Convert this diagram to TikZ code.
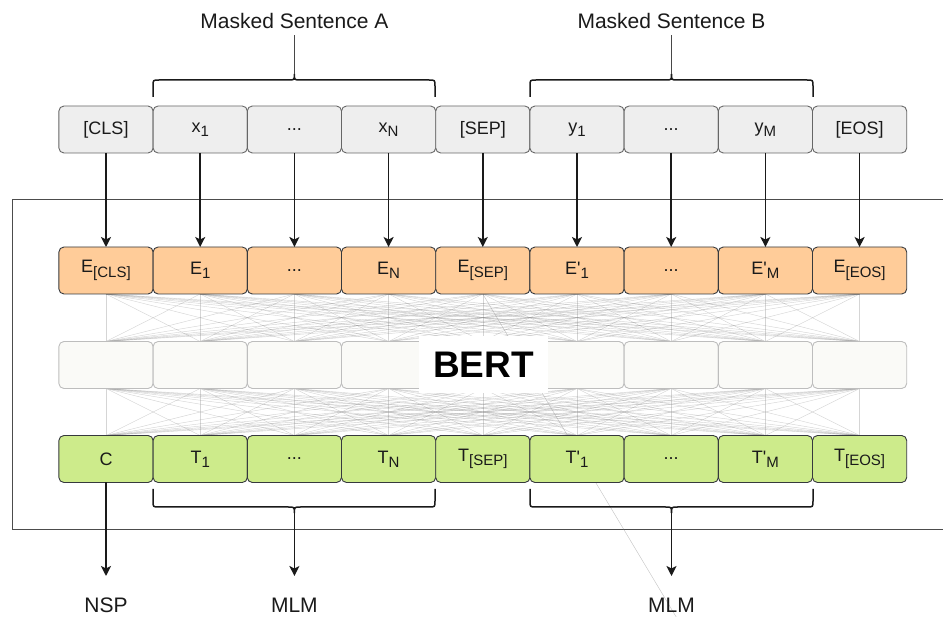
\documentclass[tikz,border=0pt]{standalone}
\usepackage{fontspec}
\setmainfont{Liberation Sans}[Ligatures=TeXOff]
\usetikzlibrary{arrows.meta,backgrounds}
\definecolor{topfill}{HTML}{EEEEEE}
\definecolor{topdraw}{HTML}{666666}
\definecolor{efill}{HTML}{FFCC99}
\definecolor{tfill}{HTML}{CDEB8B}
\definecolor{cdraw}{HTML}{36393D}
\definecolor{mfill}{HTML}{F9F9F5}
\definecolor{mdraw}{HTML}{BDBDBD}
\definecolor{ink}{HTML}{1A1A1A}
\newcommand{\mysub}[1]{\raisebox{-0.45ex}{\fontsize{15}{15}\selectfont #1}}
\begin{document}
\begin{tikzpicture}[x=1pt,y=-1pt,
  box/.style={rectangle, rounded corners=5pt, minimum width=94.2pt, minimum height=47pt,
    inner sep=0pt, outer sep=0pt, line width=0.9pt, font=\fontsize{18}{20}\selectfont, text=ink},
  inbox/.style={box, draw=topdraw, fill=topfill},
  ebox/.style={box, draw=cdraw, fill=efill},
  tbox/.style={box, draw=cdraw, fill=tfill},
  mbox/.style={box, draw=mdraw, fill=mfill, fill opacity=0.8},
  mesh/.style={draw=gray, opacity=0.33, line width=0.45pt},
  arr/.style={draw=ink, line width=1.6pt, -{Stealth[length=10pt,width=10pt,inset=2.5pt]}},
  curly/.style={draw=ink, line width=1.5pt},
  stem/.style={draw=ink!80, line width=0.9pt},
  lbl/.style={font=\fontsize{21}{23}\selectfont, text=ink, inner sep=0pt}
]
\useasboundingbox (0,0) rectangle (943,617);

% top row
\node[inbox] (t1) at (106.0,129.5) {[CLS]};
\node[inbox] (t2) at (200.2,129.5) {x\mysub{1}};
\node[inbox] (t3) at (294.4,129.5) {...};
\node[inbox] (t4) at (388.6,129.5) {x\mysub{N}};
\node[inbox] (t5) at (482.8,129.5) {[SEP]};
\node[inbox] (t6) at (577.0,129.5) {y\mysub{1}};
\node[inbox] (t7) at (671.2,129.5) {...};
\node[inbox] (t8) at (765.4,129.5) {y\mysub{M}};
\node[inbox] (t9) at (859.6,129.5) {[EOS]};

% embedding row
\node[ebox] (e1) at (106.0,270.5) {E\mysub{[CLS]}};
\node[ebox] (e2) at (200.2,270.5) {E\mysub{1}};
\node[ebox] (e3) at (294.4,270.5) {...};
\node[ebox] (e4) at (388.6,270.5) {E\mysub{N}};
\node[ebox] (e5) at (482.8,270.5) {E\mysub{[SEP]}};
\node[ebox] (e6) at (577.0,270.5) {E'\mysub{1}};
\node[ebox] (e7) at (671.2,270.5) {...};
\node[ebox] (e8) at (765.4,270.5) {E'\mysub{M}};
\node[ebox] (e9) at (859.6,270.5) {E\mysub{[EOS]}};

% middle row
\foreach \i/\x in {1/106.0,2/200.2,3/294.4,4/388.6,5/482.8,6/577.0,7/671.2,8/765.4,9/859.6}
  \node[mbox] (m\i) at (\x,365) {};

% output row
\node[tbox] (o1) at (106.0,459) {C};
\node[tbox] (o2) at (200.2,459) {T\mysub{1}};
\node[tbox] (o3) at (294.4,459) {...};
\node[tbox] (o4) at (388.6,459) {T\mysub{N}};
\node[tbox] (o5) at (482.8,459) {T\mysub{[SEP]}};
\node[tbox] (o6) at (577.0,459) {T'\mysub{1}};
\node[tbox] (o7) at (671.2,459) {...};
\node[tbox] (o8) at (765.4,459) {T'\mysub{M}};
\node[tbox] (o9) at (859.6,459) {T\mysub{[EOS]}};

\coordinate (stray) at (684,630);

\begin{scope}[on background layer]
  \draw[draw=black!70, line width=1pt] (12,200) rectangle (950,529);
  \foreach \i in {1,...,9}{
    \foreach \j in {1,...,9}{
      \draw[mesh] (e\i.south) -- (m\j.north);
      \draw[mesh] (m\i.south) -- (o\j.north);
    }
  }
  \draw[mesh, opacity=0.45] (e5.south) -- (stray);
\end{scope}

% BERT label
\node[fill=white, minimum width=129pt, minimum height=57pt, inner sep=0pt,
  font=\bfseries\fontsize{37}{37}\selectfont, text=black] (bert) at (483.5,364.5) {BERT};

% input arrows
\foreach \i in {1,...,9} \draw[arr] (t\i) -- (e\i);

% top braces
\node[lbl] (msa) at (294.4,21) {Masked Sentence A};
\node[lbl] (msb) at (671.5,21) {Masked Sentence B};
\coordinate (tipA) at (294.4,74);
\coordinate (tipB) at (671.5,74);
\draw[curly] (153,97) -- (153,86) .. controls (153,80) .. (159,80) -- (288.4,80)
  .. controls (294.4,80) .. (tipA) .. controls (294.4,80) .. (300.4,80) -- (429,80)
  .. controls (435,80) .. (435,86) -- (435,97);
\draw[curly] (530,97) -- (530,86) .. controls (530,80) .. (536,80) -- (665.5,80)
  .. controls (671.5,80) .. (tipB) .. controls (671.5,80) .. (677.5,80) -- (807,80)
  .. controls (813,80) .. (813,86) -- (813,97);
\draw[stem] (tipA) -- (msa.south |- 0,35);
\draw[stem] (tipB) -- (msb.south |- 0,35);

% bottom braces
\coordinate (btipA) at (294.4,513);
\coordinate (btipB) at (671.5,513);
\draw[curly] (153,489) -- (153,501) .. controls (153,507) .. (159,507) -- (288.4,507)
  .. controls (294.4,507) .. (btipA) .. controls (294.4,507) .. (300.4,507) -- (429,507)
  .. controls (435,507) .. (435,501) -- (435,489);
\draw[curly] (530,489) -- (530,501) .. controls (530,507) .. (536,507) -- (665.5,507)
  .. controls (671.5,507) .. (btipB) .. controls (671.5,507) .. (677.5,507) -- (807,507)
  .. controls (813,507) .. (813,501) -- (813,489);

% outputs
\node[lbl] (nsp) at (106,605) {NSP};
\node[lbl] (mlma) at (294.4,605) {MLM};
\node[lbl] (mlmb) at (671.5,605) {MLM};
\coordinate (nspend) at (106,576);
\coordinate (mlmaend) at (294.4,576);
\coordinate (mlmbend) at (671.5,576);
\draw[arr] (o1.south) -- (nspend);
\draw[arr] (btipA) -- (mlmaend);
\draw[arr] (btipB) -- (mlmbend);
\end{tikzpicture}
\end{document}
